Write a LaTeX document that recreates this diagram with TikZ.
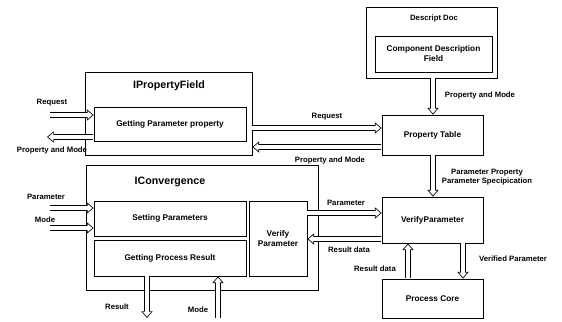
\documentclass[tikz,border=0pt]{standalone}
\usepackage{fontspec}
\setmainfont{Liberation Sans}
\usetikzlibrary{arrows.meta}
\newcommand\harr[2]{\draw[hout] #1 -- #2; \draw[hin] #1 -- #2;}

\begin{document}
\begin{tikzpicture}[x=0.75pt,y=0.75pt,yscale=-1,xscale=1,
	blk/.style={draw,line width=0.6pt,inner sep=0pt,align=center,font=\fontsize{6.2}{7.5}\selectfont\bfseries},
	ttl/.style={font=\fontsize{8}{9}\selectfont\bfseries},
	lbl/.style={font=\fontsize{5.8}{7}\selectfont\bfseries,inner sep=0pt,align=center},
	hout/.style={line width=3.8pt,shorten <=0.3pt,-{Triangle[length=5pt,width=8.5pt,line width=0pt]}},
	hin/.style={white,line width=2.6pt,shorten <=0pt,shorten >=0.93pt,-{Triangle[length=3.47pt,width=5.9pt,line width=0pt]}}]
	\useasboundingbox (0,0) rectangle (562,322);
	\node[blk,minimum width=125.25pt,minimum height=62.25pt] (ipf) at (168.5,113.5) {};
	\node[ttl] (ipft) at (169,86) {IPropertyField};
	\node[blk,minimum width=114pt,minimum height=25.5pt] (gpp) at (170,124) {Getting Parameter property};
	\node[blk,minimum width=174pt,minimum height=93.75pt] (icv) at (202,227.5) {};
	\node[ttl] (icvt) at (170,182) {IConvergence};
	\node[blk,minimum width=114pt,minimum height=26.25pt] (setp) at (170,218.5) {Setting Parameters};
	\node[blk,minimum width=114pt,minimum height=27pt] (gpr) at (170,258) {Getting Process Result};
	\node[blk,minimum width=43.5pt,minimum height=56.25pt] (vpar) at (278,238.5) {Verify\\Parameter};
	\node[blk,minimum width=98.25pt,minimum height=53.25pt] (ddoc) at (431.5,42.5) {};
	\node[lbl] (ddoct) at (434,18) {Descript Doc};
	\node[blk,minimum width=87.75pt,minimum height=27pt] (cdf) at (433.5,54) {Component Description\\Field};
	\node[blk,minimum width=75.75pt,minimum height=30pt] (ptab) at (432.5,135) {Property Table};
	\node[blk,minimum width=75.75pt,minimum height=34.5pt] (vp) at (432.5,220) {VerifyParameter};
	\node[blk,minimum width=75.75pt,minimum height=29.25pt] (pcore) at (432.5,298.5) {Process Core};
	\coordinate (reqin) at (50,115);
	\coordinate (pmout) at (47,137);
	\coordinate (parin) at (50,208);
	\coordinate (modin) at (50,228);
	\coordinate (resout) at (147,318);
	\coordinate (modup) at (218,318);
	\harr{(reqin)}{(reqin -| gpp.west)}
	\harr{(pmout -| gpp.west)}{(pmout)}
	\harr{(parin)}{(parin -| setp.west)}
	\harr{(modin)}{(modin -| setp.west)}
	\harr{(resout |- gpr.south)}{(resout)}
	\harr{(modup)}{(modup |- gpr.south)}
	\harr{(ipf.east |- 0,128)}{(ptab.west |- 0,128)}
	\harr{(ptab.west |- 0,147)}{(ipf.east |- 0,147)}
	\harr{(ddoc.south -| 433,0)}{(ptab.north -| 433,0)}
	\harr{(ptab.south -| 433,0)}{(vp.north -| 433,0)}
	\harr{(vpar.east |- 0,213)}{(vp.west |- 0,213)}
	\harr{(vp.west |- 0,239)}{(vpar.east |- 0,239)}
	\harr{(vp.south -| 463,0)}{(pcore.north -| 463,0)}
	\harr{(pcore.north -| 408,0)}{(vp.south -| 408,0)}
	\node[lbl] (l1) at (52,103) {Request};
	\node[lbl] (l2) at (52,150) {Property and Mode};
	\node[lbl] (l3) at (46,197) {Parameter};
	\node[lbl] (l4) at (45,220) {Mode};
	\node[lbl] (l5) at (117,307) {Result};
	\node[lbl] (l6) at (198,310) {Mode};
	\node[lbl] (l7) at (327,117) {Request};
	\node[lbl] (l8) at (330,160) {Property and Mode};
	\node[lbl] (l9) at (480,95) {Property and Mode};
	\node[lbl] (l10) at (487,177) {Parameter Property\\Parameter Specipication};
	\node[lbl] (l11) at (346,203) {Parameter};
	\node[lbl] (l12) at (349,250) {Result data};
	\node[lbl] (l13) at (513,259) {Verified Parameter};
	\node[lbl] (l14) at (375,269) {Result data};
\end{tikzpicture}
\end{document}
